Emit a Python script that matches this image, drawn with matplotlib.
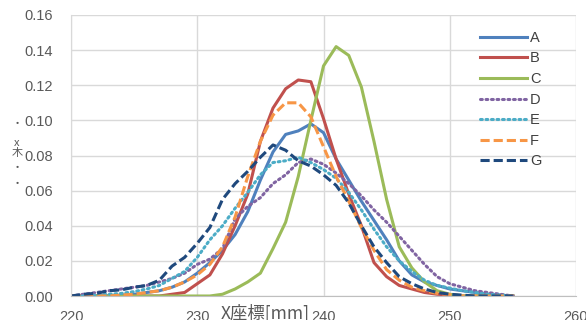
import matplotlib
matplotlib.use("Agg")
import matplotlib.pyplot as plt
import numpy as np

x = np.arange(220, 256)

A = [0, 0, 0, 0, 0.0005, 0.001, 0.002, 0.003, 0.005, 0.008, 0.013, 0.019, 0.026, 0.035, 0.048, 0.066,
     0.082, 0.092, 0.094, 0.098, 0.093, 0.078, 0.066, 0.054, 0.043, 0.032, 0.020, 0.012, 0.008, 0.006,
     0.004, 0.003, 0.002, 0.001, 0.0005, 0]
B = [0, 0, 0, 0, 0, 0, 0, 0, 0.001, 0.002, 0.007, 0.012, 0.024, 0.040, 0.058, 0.088,
     0.107, 0.118, 0.123, 0.122, 0.101, 0.078, 0.058, 0.040, 0.019, 0.011, 0.006, 0.004, 0.002, 0.001,
     0.0005, 0, 0, 0, 0, 0]
C = [0, 0, 0, 0, 0, 0, 0, 0, 0, 0, 0, 0, 0.001, 0.004, 0.008, 0.013,
     0.027, 0.042, 0.068, 0.100, 0.131, 0.142, 0.137, 0.119, 0.088, 0.055, 0.028, 0.016, 0.008, 0.003,
     0.001, 0, 0, 0, 0, 0]
D = [0, 0.001, 0.002, 0.003, 0.004, 0.005, 0.006, 0.008, 0.010, 0.013, 0.018, 0.021, 0.027, 0.044, 0.051, 0.056,
     0.064, 0.069, 0.076, 0.078, 0.075, 0.070, 0.064, 0.057, 0.049, 0.042, 0.034, 0.026, 0.018, 0.011,
     0.007, 0.005, 0.003, 0.002, 0.001, 0]
E = [0, 0, 0.0005, 0.001, 0.0015, 0.0025, 0.004, 0.006, 0.010, 0.014, 0.022, 0.032, 0.040, 0.050, 0.059, 0.069,
     0.076, 0.077, 0.079, 0.076, 0.072, 0.067, 0.059, 0.049, 0.038, 0.028, 0.020, 0.014, 0.009, 0.006,
     0.0045, 0.003, 0.002, 0.001, 0.0005, 0]
F = [0, 0, 0, 0, 0.0005, 0.001, 0.002, 0.003, 0.005, 0.008, 0.012, 0.018, 0.028, 0.045, 0.068, 0.088,
     0.103, 0.110, 0.110, 0.102, 0.085, 0.068, 0.054, 0.039, 0.026, 0.015, 0.009, 0.005, 0.003, 0.0015,
     0.0008, 0, 0, 0, 0, 0]
G = [0, 0.001, 0.0015, 0.003, 0.0035, 0.005, 0.006, 0.009, 0.017, 0.022, 0.030, 0.039, 0.055, 0.064, 0.071, 0.079,
     0.086, 0.083, 0.077, 0.074, 0.069, 0.063, 0.053, 0.040, 0.028, 0.019, 0.011, 0.007, 0.004, 0.002,
     0.001, 0.0005, 0, 0, 0, 0]

names = ["A", "B", "C", "D", "E", "F", "G"]
series = [A, B, C, D, E, F, G]
colors = ["#4F81BD", "#C0504D", "#9BBB59", "#8064A2", "#4BACC6", "#F79646", "#1F497D"]
styles = ["-", "-", "-", (0, (0.6, 1.2)), (0, (0.6, 1.2)), (0, (3, 1.3)), (0, (3, 1.3))]

plt.rcParams["font.family"] = ["Liberation Sans", "DejaVu Sans"]

fig = plt.figure(figsize=(5.86, 3.2), dpi=100)
ax = fig.add_axes([71/586, 1-296/320, 505/586, 281/320])

for name, s, c, ls in zip(names, series, colors, styles):
    cap = "round" if ls in styles[3:5] else "butt"
    ax.plot(x, s, color=c, linestyle=ls, linewidth=2.2, label=name,
            dash_capstyle=cap, solid_joinstyle="round")

ax.set_xlim(220, 260)
ax.set_ylim(0, 0.16)
ax.set_xticks(np.arange(220, 261, 10))
ax.set_yticks(np.arange(0, 0.161, 0.02))
ax.yaxis.set_major_formatter(matplotlib.ticker.FormatStrFormatter("%.2f"))
ax.grid(True, color="#D9D9D9", linewidth=1)
ax.set_axisbelow(True)
for sp in ["top", "right"]:
    ax.spines[sp].set_visible(False)
ax.spines["left"].set_color("#D9D9D9")
ax.spines["bottom"].set_color("#BFBFBF")
ax.tick_params(length=0, labelsize=10.5, colors="#595959")
ax.tick_params(axis="x", pad=10)
ax.tick_params(axis="y", pad=13)

leg = ax.legend(loc="upper right", bbox_to_anchor=(0.957, 0.99), frameon=False,
                fontsize=10.5, handlelength=3.2, labelspacing=0.45, handletextpad=0.2)
for t in leg.get_texts():
    t.set_color("#404040")

fig.text(265/586, 1-313/320, "X座標[mm]", ha="center", va="center", fontsize=12.5,
         color="#595959", family=["Noto Sans CJK JP", "DejaVu Sans"])

# garbled vertical y label
for ch, yy in [("・", 124), ("x", 143), ("木", 153), ("・", 168), ("・", 184)]:
    fig.text(17/586, 1-yy/320, ch, ha="center", va="center", fontsize=8,
             color="#595959", family=["Noto Sans CJK JP", "DejaVu Sans"])

fig.savefig("out.png", dpi=100)
